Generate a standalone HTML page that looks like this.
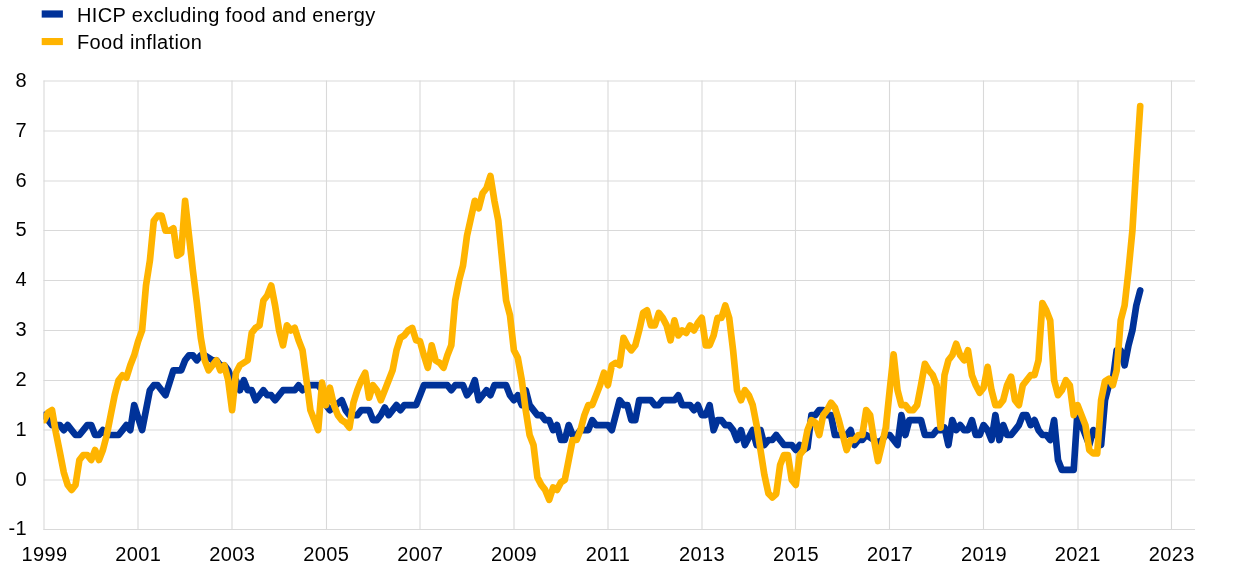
<!DOCTYPE html>
<html lang="en"><head><meta charset="utf-8"><title>HICP excluding food and energy vs food inflation</title>
<style>
html,body{margin:0;padding:0;background:#fff}
body{width:1240px;height:575px;overflow:hidden;font-family:"Liberation Sans",Arial,sans-serif}
svg{display:block;will-change:transform}
svg text{font-family:"Liberation Sans",Arial,sans-serif;font-size:20px;fill:#000}
svg text{letter-spacing:0.37px}
.grid line{stroke:#d9d9d9;stroke-width:1.1}
.s{fill:none;stroke-width:6.7;stroke-linejoin:round;stroke-linecap:round}
</style></head><body>
<svg width="1240" height="575" viewBox="0 0 1240 575">
<rect width="1240" height="575" fill="#fff"/>
<rect x="41.7" y="10.4" width="21.2" height="7.2" fill="#003299"/>
<rect x="41.7" y="38.0" width="21.2" height="7.1" fill="#ffb400"/>
<text class="lg" x="77" y="22.3">HICP excluding food and energy</text>
<text class="lg" x="77" y="49.2">Food inflation</text>
<g class="grid">
<line x1="43.5" x2="1195" y1="529.50" y2="529.50"/>
<line x1="43.5" x2="1195" y1="480.00" y2="480.00"/>
<line x1="43.5" x2="1195" y1="430.00" y2="430.00"/>
<line x1="43.5" x2="1195" y1="380.50" y2="380.50"/>
<line x1="43.5" x2="1195" y1="330.50" y2="330.50"/>
<line x1="43.5" x2="1195" y1="280.50" y2="280.50"/>
<line x1="43.5" x2="1195" y1="230.50" y2="230.50"/>
<line x1="43.5" x2="1195" y1="181.00" y2="181.00"/>
<line x1="43.5" x2="1195" y1="131.00" y2="131.00"/>
<line x1="43.5" x2="1195" y1="81.00" y2="81.00"/>
<line x1="44.00" x2="44.00" y1="80.5" y2="530"/>
<line x1="138.00" x2="138.00" y1="80.5" y2="530"/>
<line x1="232.00" x2="232.00" y1="80.5" y2="530"/>
<line x1="326.50" x2="326.50" y1="80.5" y2="530"/>
<line x1="420.00" x2="420.00" y1="80.5" y2="530"/>
<line x1="514.00" x2="514.00" y1="80.5" y2="530"/>
<line x1="608.00" x2="608.00" y1="80.5" y2="530"/>
<line x1="702.00" x2="702.00" y1="80.5" y2="530"/>
<line x1="795.50" x2="795.50" y1="80.5" y2="530"/>
<line x1="889.50" x2="889.50" y1="80.5" y2="530"/>
<line x1="983.50" x2="983.50" y1="80.5" y2="530"/>
<line x1="1078.00" x2="1078.00" y1="80.5" y2="530"/>
<line x1="1171.50" x2="1171.50" y1="80.5" y2="530"/>
</g>
<g>
<text x="27" y="535.3" text-anchor="end">-1</text>
<text x="27" y="485.8" text-anchor="end">0</text>
<text x="27" y="435.8" text-anchor="end">1</text>
<text x="27" y="386.3" text-anchor="end">2</text>
<text x="27" y="336.3" text-anchor="end">3</text>
<text x="27" y="286.3" text-anchor="end">4</text>
<text x="27" y="236.3" text-anchor="end">5</text>
<text x="27" y="186.8" text-anchor="end">6</text>
<text x="27" y="136.8" text-anchor="end">7</text>
<text x="27" y="86.8" text-anchor="end">8</text>
</g>
<g>
<text x="44.4" y="560.7" text-anchor="middle">1999</text>
<text x="138.3" y="560.7" text-anchor="middle">2001</text>
<text x="232.3" y="560.7" text-anchor="middle">2003</text>
<text x="326.2" y="560.7" text-anchor="middle">2005</text>
<text x="420.2" y="560.7" text-anchor="middle">2007</text>
<text x="514.1" y="560.7" text-anchor="middle">2009</text>
<text x="608.1" y="560.7" text-anchor="middle">2011</text>
<text x="702.0" y="560.7" text-anchor="middle">2013</text>
<text x="796.0" y="560.7" text-anchor="middle">2015</text>
<text x="889.9" y="560.7" text-anchor="middle">2017</text>
<text x="983.9" y="560.7" text-anchor="middle">2019</text>
<text x="1077.8" y="560.7" text-anchor="middle">2021</text>
<text x="1171.7" y="560.7" text-anchor="middle">2023</text>
</g>
<clipPath id="c"><rect x="43.6" y="60" width="1160" height="480"/></clipPath>
<g clip-path="url(#c)">
<polyline class="s" stroke="#003299" points="44.2,415.1 48.1,420.1 52.0,425.1 55.9,425.1 59.9,425.1 63.8,430.1 67.7,425.1 71.6,430.1 75.5,435.0 79.4,435.0 83.3,430.1 87.3,425.1 91.2,425.1 95.1,435.0 99.0,435.0 102.9,430.1 106.8,435.0 110.7,435.0 114.7,435.0 118.6,435.0 122.5,430.1 126.4,425.1 130.3,430.1 134.2,405.1 138.1,417.6 142.1,430.1 146.0,410.1 149.9,390.2 153.8,385.2 157.7,385.2 161.6,390.2 165.5,395.2 169.5,382.7 173.4,370.3 177.3,370.3 181.2,370.3 185.1,360.3 189.0,355.3 192.9,355.3 196.9,360.3 200.8,355.3 204.7,355.3 208.6,357.8 212.5,360.3 216.4,360.3 220.3,365.3 224.3,365.3 228.2,370.3 232.1,380.2 236.0,380.2 239.9,390.2 243.8,380.2 247.7,390.2 251.7,390.2 255.6,400.2 259.5,395.2 263.4,390.2 267.3,395.2 271.2,395.2 275.1,400.2 279.1,395.2 283.0,390.2 286.9,390.2 290.8,390.2 294.7,390.2 298.6,385.2 302.5,390.2 306.5,387.7 310.4,385.2 314.3,385.2 318.2,385.2 322.1,390.2 326.0,405.1 329.9,410.1 333.9,406.8 337.8,403.5 341.7,400.2 345.6,410.1 349.5,415.1 353.4,415.1 357.3,415.1 361.3,410.1 365.2,410.1 369.1,410.1 373.0,420.1 376.9,420.1 380.8,415.1 384.8,407.6 388.7,415.1 392.6,410.1 396.5,405.1 400.4,410.1 404.3,405.1 408.2,405.1 412.2,405.1 416.1,405.1 420.0,395.2 423.9,385.2 427.8,385.2 431.7,385.2 435.6,385.2 439.6,385.2 443.5,385.2 447.4,385.2 451.3,390.2 455.2,385.2 459.1,385.2 463.0,385.2 467.0,395.2 470.9,390.2 474.8,380.2 478.7,400.2 482.6,395.2 486.5,390.2 490.4,395.2 494.4,385.2 498.3,385.2 502.2,385.2 506.1,385.2 510.0,395.2 513.9,400.2 517.8,395.2 521.8,405.1 525.7,390.2 529.6,405.1 533.5,410.1 537.4,415.1 541.3,415.1 545.2,420.1 549.2,420.1 553.1,430.1 557.0,425.1 560.9,440.0 564.8,440.0 568.7,425.1 572.6,435.0 576.6,435.0 580.5,430.1 584.4,430.1 588.3,430.1 592.2,420.1 596.1,425.1 600.0,425.1 604.0,425.1 607.9,425.1 611.8,430.1 615.7,415.1 619.6,400.2 623.5,405.1 627.4,405.1 631.4,420.1 635.3,420.1 639.2,400.2 643.1,400.2 647.0,400.2 650.9,400.2 654.8,405.1 658.8,405.1 662.7,400.2 666.6,400.2 670.5,400.2 674.4,400.2 678.3,395.2 682.2,405.1 686.2,405.1 690.1,405.1 694.0,410.1 697.9,405.1 701.8,415.1 705.7,415.1 709.6,405.1 713.6,430.1 717.5,420.1 721.4,420.1 725.3,425.1 729.2,425.1 733.1,430.1 737.0,440.0 741.0,430.1 744.9,445.0 748.8,437.5 752.7,430.1 756.6,445.0 760.5,430.1 764.4,445.0 768.4,440.0 772.3,440.0 776.2,435.0 780.1,440.0 784.0,445.0 787.9,445.0 791.8,445.0 795.8,450.0 799.7,445.0 803.6,450.0 807.5,447.5 811.4,415.1 815.3,415.1 819.2,410.1 823.2,410.1 827.1,415.1 831.0,415.1 834.9,435.0 838.8,435.0 842.7,435.0 846.6,435.0 850.6,430.1 854.5,445.0 858.4,440.0 862.3,440.0 866.2,435.0 870.1,437.5 874.0,440.0 878.0,442.5 881.9,440.0 885.8,435.0 889.7,435.0 893.6,440.0 897.5,445.0 901.4,415.1 905.4,435.0 909.3,420.1 913.2,420.1 917.1,420.1 921.0,420.1 924.9,435.0 928.8,435.0 932.8,435.0 936.7,430.1 940.6,430.1 944.5,427.6 948.4,445.0 952.3,420.1 956.2,430.1 960.2,425.1 964.1,430.1 968.0,430.1 971.9,420.1 975.8,435.0 979.7,435.0 983.6,425.1 987.6,430.1 991.5,440.0 995.4,415.1 999.3,440.0 1003.2,425.1 1007.1,435.0 1011.1,435.0 1015.0,430.1 1018.9,425.1 1022.8,415.1 1026.7,415.1 1030.6,425.1 1034.5,420.1 1038.5,430.1 1042.4,435.0 1046.3,435.0 1050.2,440.0 1054.1,420.1 1058.0,460.0 1061.9,469.9 1065.9,469.9 1069.8,469.9 1073.7,469.9 1077.6,410.1 1081.5,425.1 1085.4,435.0 1089.3,445.0 1093.3,430.1 1097.2,435.0 1101.1,445.0 1105.0,400.2 1108.9,385.2 1112.8,380.2 1116.7,350.3 1120.7,350.3 1124.6,365.3 1128.5,345.3 1132.4,330.4 1136.3,305.5 1140.2,290.5"/>
<polyline class="s" stroke="#ffb400" points="44.2,420.1 48.1,412.6 52.0,410.1 55.9,432.6 59.9,452.5 63.8,472.4 67.7,484.9 71.6,489.9 75.5,484.9 79.4,460.0 83.3,455.0 87.3,455.0 91.2,460.0 95.1,450.0 99.0,460.0 102.9,450.0 106.8,435.0 110.7,415.1 114.7,395.2 118.6,380.2 122.5,375.2 126.4,377.7 130.3,365.3 134.2,355.3 138.1,341.3 142.1,330.4 146.0,285.5 149.9,260.6 153.8,220.7 157.7,215.7 161.6,215.7 165.5,230.7 169.5,230.7 173.4,228.2 177.3,255.6 181.2,253.1 185.1,200.8 189.0,235.7 192.9,270.6 196.9,303.0 200.8,337.9 204.7,360.3 208.6,370.3 212.5,365.3 216.4,360.3 220.3,370.3 224.3,365.3 228.2,380.2 232.1,410.1 236.0,372.7 239.9,365.3 243.8,362.8 247.7,360.3 251.7,332.9 255.6,327.9 259.5,325.4 263.4,300.5 267.3,295.5 271.2,285.5 275.1,305.5 279.1,330.4 283.0,345.3 286.9,325.4 290.8,330.4 294.7,327.9 298.6,340.3 302.5,350.3 306.5,380.2 310.4,410.1 314.3,420.1 318.2,430.1 322.1,382.7 326.0,405.1 329.9,387.7 333.9,405.1 337.8,415.1 341.7,420.1 345.6,422.6 349.5,427.6 353.4,402.7 357.3,390.2 361.3,380.2 365.2,372.7 369.1,397.7 373.0,385.2 376.9,390.2 380.8,400.2 384.8,390.2 388.7,380.2 392.6,370.3 396.5,350.3 400.4,337.9 404.3,335.4 408.2,330.4 412.2,327.9 416.1,340.3 420.0,341.3 423.9,355.3 427.8,367.8 431.7,345.3 435.6,360.3 439.6,362.8 443.5,367.8 447.4,355.3 451.3,345.3 455.2,300.5 459.1,280.5 463.0,265.6 467.0,235.7 470.9,218.2 474.8,200.8 478.7,208.3 482.6,193.3 486.5,188.3 490.4,175.9 494.4,200.8 498.3,220.7 502.2,260.6 506.1,300.5 510.0,315.4 513.9,350.3 517.8,357.8 521.8,380.2 525.7,410.1 529.6,435.0 533.5,445.0 537.4,477.4 541.3,484.9 545.2,489.9 549.2,499.8 553.1,487.4 557.0,489.9 560.9,482.4 564.8,479.9 568.7,460.0 572.6,440.0 576.6,440.0 580.5,430.1 584.4,415.1 588.3,405.1 592.2,405.1 596.1,395.2 600.0,385.2 604.0,372.7 607.9,385.2 611.8,365.3 615.7,362.8 619.6,365.3 623.5,337.9 627.4,345.3 631.4,350.3 635.3,345.3 639.2,330.4 643.1,312.9 647.0,310.4 650.9,325.4 654.8,325.4 658.8,312.9 662.7,317.9 666.6,325.4 670.5,340.3 674.4,320.4 678.3,335.4 682.2,330.4 686.2,332.9 690.1,325.4 694.0,330.4 697.9,322.9 701.8,317.9 705.7,345.3 709.6,345.3 713.6,335.4 717.5,317.9 721.4,317.9 725.3,305.5 729.2,317.9 733.1,350.3 737.0,390.2 741.0,400.2 744.9,390.2 748.8,395.2 752.7,405.1 756.6,425.1 760.5,450.0 764.4,474.9 768.4,493.4 772.3,497.4 776.2,493.9 780.1,465.0 784.0,455.0 787.9,455.0 791.8,479.9 795.8,484.9 799.7,455.0 803.6,450.0 807.5,430.1 811.4,420.1 815.3,422.6 819.2,435.0 823.2,415.1 827.1,410.1 831.0,402.7 834.9,407.6 838.8,420.1 842.7,435.0 846.6,450.0 850.6,440.0 854.5,440.0 858.4,435.0 862.3,435.0 866.2,410.1 870.1,415.1 874.0,440.0 878.0,461.0 881.9,445.0 885.8,427.6 889.7,390.2 893.6,354.3 897.5,390.2 901.4,405.1 905.4,405.1 909.3,410.1 913.2,410.1 917.1,405.1 921.0,385.2 924.9,363.8 928.8,370.3 932.8,375.2 936.7,385.2 940.6,427.6 944.5,375.2 948.4,360.3 952.3,355.3 956.2,343.8 960.2,355.3 964.1,360.3 968.0,350.3 971.9,375.2 975.8,385.2 979.7,392.7 983.6,387.7 987.6,366.8 991.5,390.2 995.4,405.1 999.3,405.1 1003.2,400.2 1007.1,385.2 1011.1,376.7 1015.0,400.2 1018.9,405.1 1022.8,385.2 1026.7,380.2 1030.6,375.2 1034.5,375.2 1038.5,360.3 1042.4,303.0 1046.3,310.4 1050.2,320.4 1054.1,380.2 1058.0,395.2 1061.9,390.2 1065.9,380.2 1069.8,385.2 1073.7,415.1 1077.6,405.1 1081.5,415.1 1085.4,425.1 1089.3,450.0 1093.3,453.5 1097.2,453.5 1101.1,400.2 1105.0,381.2 1108.9,378.7 1112.8,385.2 1116.7,370.3 1120.7,320.4 1124.6,305.5 1128.5,270.6 1132.4,230.7 1136.3,165.9 1140.2,106.1"/>
</g>
</svg>
</body></html>
